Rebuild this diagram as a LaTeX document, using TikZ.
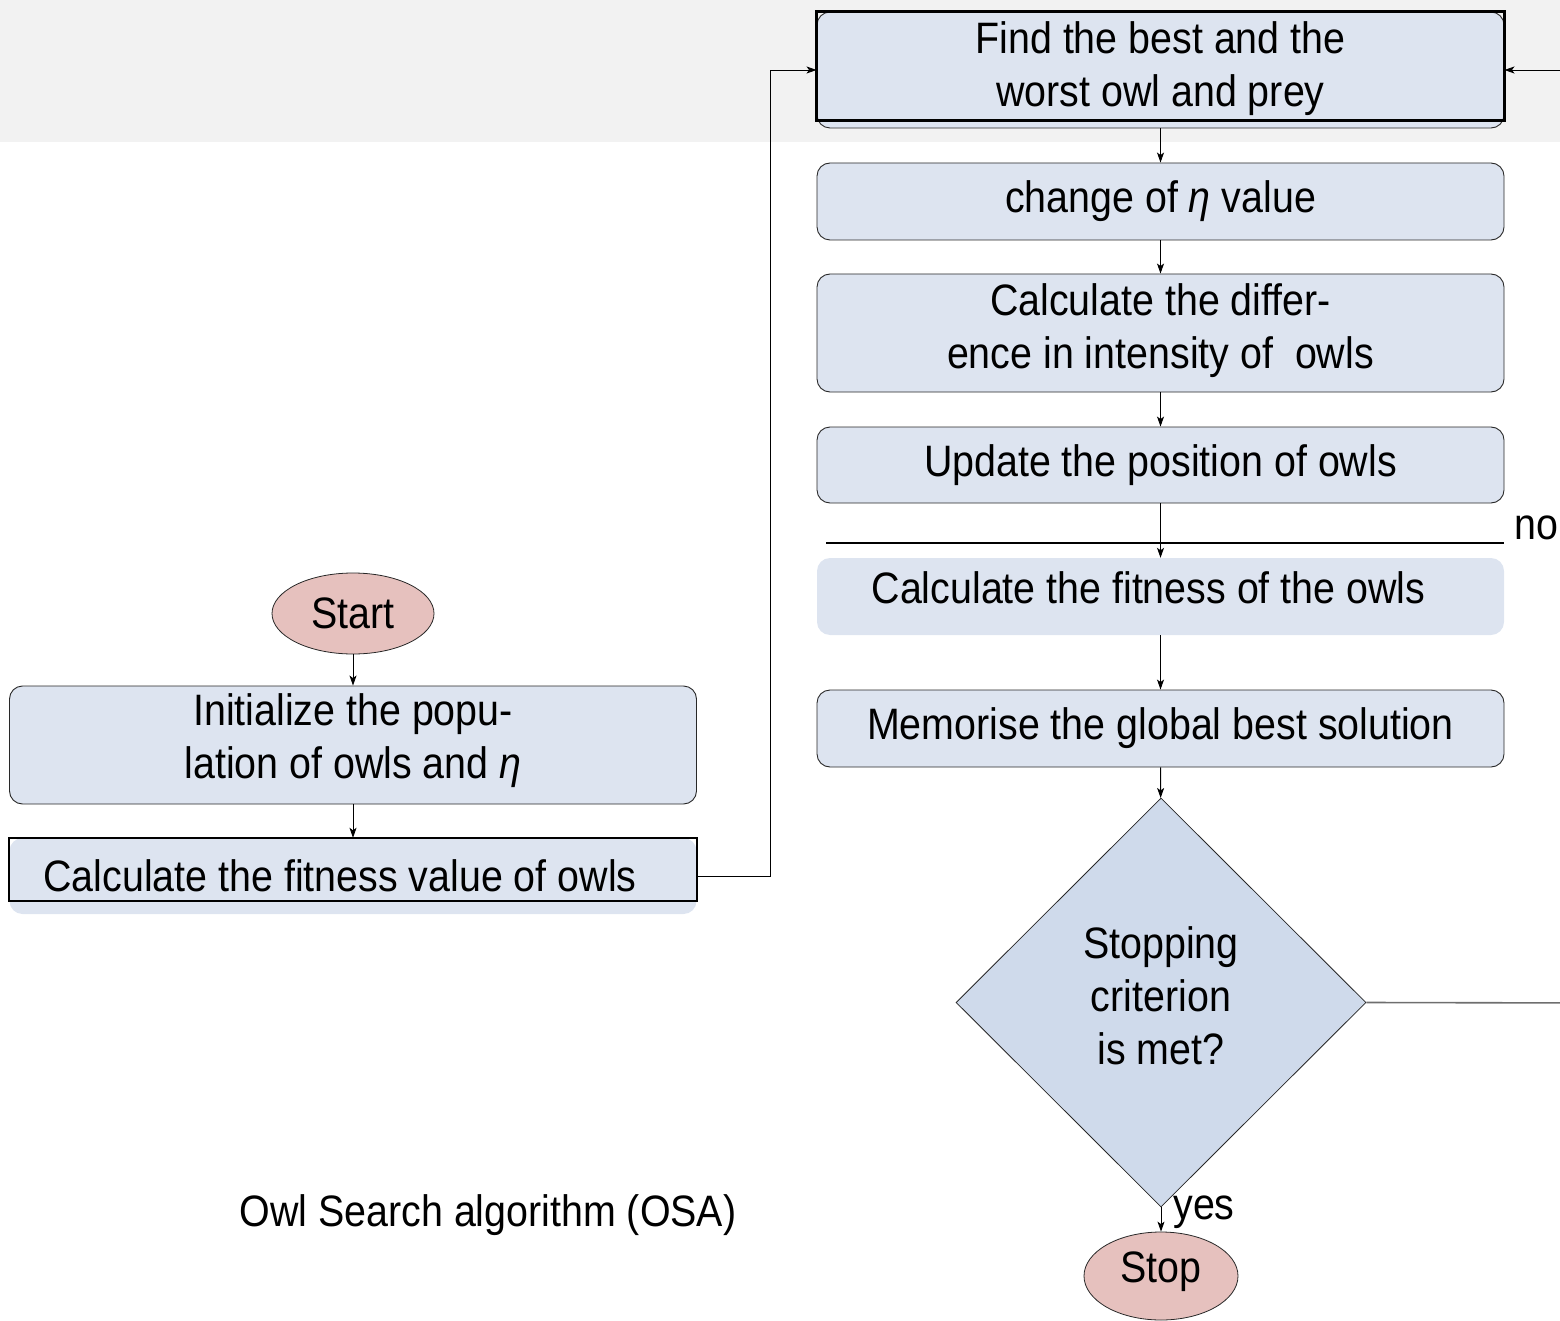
\documentclass[tikz,border=0pt]{standalone}
\usepackage{fontspec}
\setmainfont[FakeStretch=0.895]{Liberation Sans}
\usetikzlibrary{shapes.geometric,arrows.meta,calc}
\definecolor{bandgray}{RGB}{242,242,242}
\definecolor{boxfill}{RGB}{221,228,240}
\definecolor{diafill}{RGB}{207,218,235}
\definecolor{termfill}{RGB}{230,193,190}
\definecolor{edge}{RGB}{40,40,40}
\definecolor{noline}{RGB}{110,110,110}
\begin{document}
\begin{tikzpicture}[x=1pt,y=-1pt,
  txt/.style={font=\fontsize{44}{53}\selectfont, align=center},
  box/.style={txt, rounded corners=13pt, fill=boxfill, draw=edge, line width=0.9pt,
    minimum width=687pt, inner sep=2pt},
  plainbox/.style={txt, rounded corners=13pt, fill=boxfill,
    minimum width=687pt, inner sep=2pt},
  frame/.style={draw=black, line width=2.2pt},
  term/.style={txt, ellipse, fill=termfill, draw=edge, line width=0.8pt, inner sep=0pt},
  decide/.style={txt, diamond, aspect=1, fill=diafill, draw=edge, line width=0.8pt, inner sep=0pt},
  arr/.style={draw=black, line width=0.9pt, -{Stealth[length=10pt,width=7pt,inset=2.5pt]}},
  conn/.style={draw=black, line width=0.9pt}]
\useasboundingbox (0,0) rectangle (1560,1321);
\clip (0,0) rectangle (1560,1321);
\fill[bandgray] (0,0) rectangle (1560,142);

% main loop column
\node[box, minimum height=116pt, text depth=12pt] (b1) at (1160.5,70) {Find the best and the\\worst owl and prey};
\draw[frame] (b1.north west) rectangle ($(b1.south east)+(0,-8)$);
\node[box, minimum height=77pt] (b2) at (1160.5,201.5) {change of {\itshape η} value};
\node[box, minimum height=118pt, text depth=14pt] (b3) at (1160.5,333) {Calculate the differ-\\ence in intensity of\ \ owls};
\node[box, minimum height=76pt] (b4) at (1160.5,465) {Update the position of owls};
\node[plainbox, minimum height=77pt, text depth=18pt] (b5) at (1160.5,596.5) {\hspace*{-24pt}Calculate the fitness of the owls};
\node[box, minimum height=77pt] (b6) at (1160.5,728.5) {Memorise the global best solution};
\node[decide, minimum width=410pt, minimum height=409pt, text depth=13pt] (dia) at (1161,1002.5) {Stopping\\criterion\\is met?};
\node[term, minimum width=154pt, minimum height=88pt, text depth=17pt] (stop) at (1161,1276) {Stop};

% initialisation column
\node[term, minimum width=162pt, minimum height=81pt] (start) at (353,613.5) {Start};
\node[box, minimum height=118pt, text depth=17pt] (init) at (353,745) {Initialize the popu-\\lation of owls and {\itshape η}};
\node[plainbox, minimum height=76pt] (fit) at (353,876) {\hspace*{-26pt}Calculate the fitness value of owls};
\draw[frame] (fit.north west) rectangle ($(fit.south east)+(0,-13)$);

% labels
\node[txt, anchor=west, inner sep=0pt] (nolab) at (1514,528) {no};
\node[txt] (yeslab) at (1204,1212) {yes};
\node[txt] (caption) at (488,1215) {Owl Search algorithm (OSA)};

% connectors
\draw[arr] (start) -- (init);
\draw[arr] (init) -- (fit);
\draw[arr] (b1) -- (b2);
\draw[arr] (b2) -- (b3);
\draw[arr] (b3) -- (b4);
\draw[arr] (b4) -- (b5);
\draw[arr] (b5) -- (b6);
\draw[arr] (b6) -- (dia);
\draw[arr] (dia.south) -- (stop.north);

\coordinate (cutL) at (826,543);
\coordinate (cutR) at (1504,543);
\draw[conn, line width=1.3pt] (cutL) -- (cutR);

\coordinate (loopL) at (770,70);
\draw[arr] (fit.east) -| (loopL) -- (b1.west);

\coordinate (loopR) at (1600,1003);
\draw[conn, draw=noline, line width=1.6pt] (dia.east) -- (loopR);
\draw[arr] (loopR) |- (b1.east);
\end{tikzpicture}
\end{document}
